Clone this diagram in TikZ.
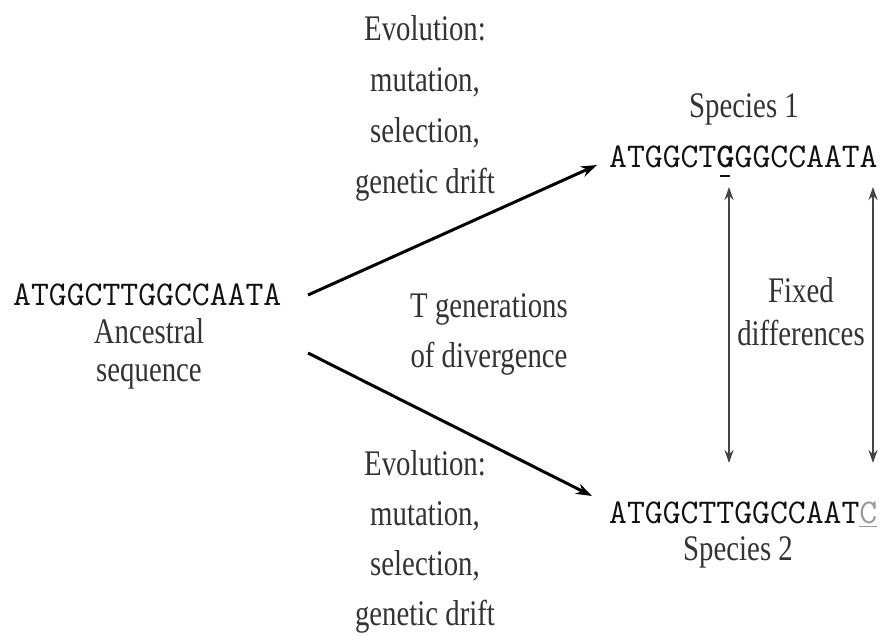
\documentclass[tikz,border=0pt]{standalone}
\usepackage{fontspec}
\newfontfamily\ser{Liberation Serif}[FakeStretch=0.8]
\usetikzlibrary{arrows.meta}
\definecolor{txt}{HTML}{333333}
\definecolor{seqc}{HTML}{111111}
\definecolor{arr}{HTML}{444444}
\begin{document}
\begin{tikzpicture}[x=1pt,y=-1pt,
  lab/.style={font=\ser\fontsize{36}{40}\selectfont, text=txt, inner sep=0pt, anchor=base},
  seq/.style={font=\ttfamily\fontsize{34.7}{40}\selectfont, text=seqc, inner sep=0pt, anchor=base west},
  evo/.style={-{Stealth[length=16pt,width=11pt]}, line width=3pt, draw=black},
  fixarr/.style={{Stealth[length=13pt,width=9pt]}-{Stealth[length=13pt,width=9pt]}, line width=2.4pt, draw=arr}]
\useasboundingbox (0,0) rectangle (882,635);
\fill[white] (0,0) rectangle (882,635);
% ancestral
\node[seq] (anc) at (13,305) {ATGGCTTGGCCAATA};
\node[lab] (anc1) at (149,343) {Ancestral};
\node[lab] (anc2) at (149,381) {sequence};
% top evolution
\node[lab] (t1) at (425,40) {Evolution:};
\node[lab] (t2) at (425,91) {mutation,};
\node[lab] (t3) at (425,142) {selection,};
\node[lab] (t4) at (425,193) {genetic drift};
% bottom evolution
\node[lab] (b1) at (425,475) {Evolution:};
\node[lab] (b2) at (425,525) {mutation,};
\node[lab] (b3) at (425,575) {selection,};
\node[lab] (b4) at (425,625) {genetic drift};
% generations
\node[lab] (g1) at (489,317) {T generations};
\node[lab] (g2) at (489,367) {of divergence};
% fixed differences
\node[lab] (f1) at (801,302) {Fixed};
\node[lab] (f2) at (801,345) {differences};
% species
\node[lab] (s1) at (744,117) {Species 1};
\node[seq] (q1) at (609,167) {ATGGCT\makebox[0pt][l]{\hspace{4pt}\rule[-10pt]{10pt}{2.2pt}}{\bfseries G}GGCCAATA};
\node[seq] (q2) at (609,523) {ATGGCTTGGCCAAT{\color{gray!80}\makebox[0pt][l]{\rule[-4pt]{18pt}{1.5pt}}C}};
\node[lab] (s2) at (738,560) {Species 2};
% connectors
\coordinate (u0) at (308,295);
\coordinate (u1) at (597,165);
\coordinate (l0) at (308,353);
\coordinate (l1) at (592,496);
\draw[evo] (u0) -- (u1);
\draw[evo] (l0) -- (l1);
\coordinate (va0) at (729,187);
\coordinate (va1) at (729,463);
\coordinate (vb0) at (873,187);
\coordinate (vb1) at (873,463);
\draw[fixarr] (va0) -- (va1);
\draw[fixarr] (vb0) -- (vb1);
\end{tikzpicture}
\end{document}
